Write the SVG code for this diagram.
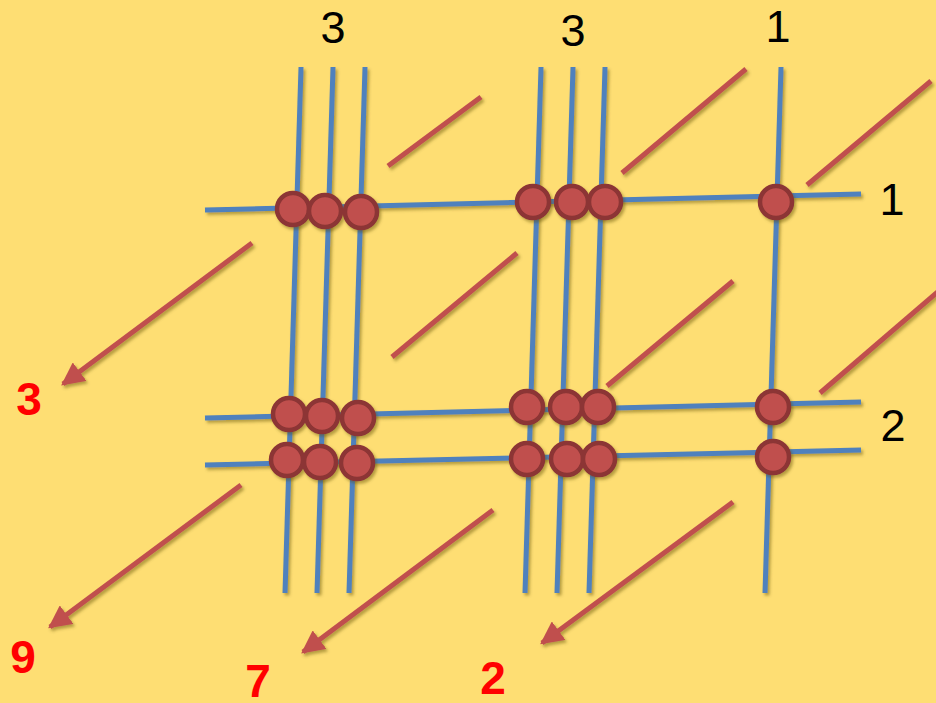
<svg xmlns="http://www.w3.org/2000/svg" width="936" height="703" viewBox="0 0 936 703">
  <defs>
    <filter id="shadow" x="-20%" y="-20%" width="140%" height="140%">
      <feDropShadow dx="2" dy="2.5" stdDeviation="1.5" flood-color="#5a4a10" flood-opacity="0.45"/>
    </filter>
    <marker id="head" viewBox="0 0 10 10" refX="9" refY="5" markerWidth="4.6" markerHeight="4.6" orient="auto" markerUnits="strokeWidth">
      <path d="M0,0 L10,5 L0,10 z" fill="#C0504D"/>
    </marker>
  </defs>
  <style>
    .blue { stroke: #4F81BD; stroke-width: 5; fill: none; }
    .red { stroke: #C0504D; stroke-width: 5; fill: none; }
    .dot { fill: #C0504D; stroke: #8C3535; stroke-width: 4.5; }
    .num { font-family: "Liberation Sans", Arial, sans-serif; font-size: 45px; fill: #000; text-anchor: middle; }
    .sum { font-family: "Liberation Sans", Arial, sans-serif; font-size: 46px; font-weight: bold; fill: #FF0000; text-anchor: middle; }
  </style>

  <rect width="936" height="703" fill="#FEDE73"/>

  <!-- line groups for the two factors -->
  <g id="vertical-lines" class="blue" filter="url(#shadow)">
    <line x1="301" y1="67" x2="285" y2="593"/>
    <line x1="333" y1="67" x2="317" y2="593"/>
    <line x1="365" y1="67" x2="349" y2="593"/>
    <line x1="541" y1="67" x2="525" y2="593"/>
    <line x1="573" y1="67" x2="557" y2="593"/>
    <line x1="605" y1="67" x2="589" y2="593"/>
    <line x1="781" y1="67" x2="765" y2="593"/>
  </g>
  <g id="horizontal-lines" class="blue" filter="url(#shadow)">
    <line x1="205" y1="210" x2="861" y2="194"/>
    <line x1="205" y1="418" x2="861" y2="402"/>
    <line x1="205" y1="465" x2="861" y2="450"/>
  </g>

  <!-- diagonal separators and summing arrows -->
  <g id="connectors" class="red" filter="url(#shadow)">
    <line x1="388" y1="166" x2="481" y2="97"/>
    <line x1="622" y1="173" x2="746" y2="69"/>
    <line x1="807" y1="185" x2="931" y2="81"/>
    <line x1="392" y1="357" x2="517" y2="253"/>
    <line x1="607" y1="386" x2="733" y2="281"/>
    <line x1="820" y1="393" x2="940" y2="290"/>
    <line x1="252" y1="243" x2="63" y2="384" marker-end="url(#head)"/>
    <line x1="241" y1="485" x2="50" y2="627" marker-end="url(#head)"/>
    <line x1="493" y1="510" x2="303" y2="652" marker-end="url(#head)"/>
    <line x1="733" y1="502" x2="542" y2="643" marker-end="url(#head)"/>
  </g>

  <!-- intersection points -->
  <g id="row1-dots" filter="url(#shadow)">
    <circle class="dot" cx="293" cy="209" r="16"/>
    <circle class="dot" cx="325" cy="211" r="16"/>
    <circle class="dot" cx="361" cy="212" r="16"/>
    <circle class="dot" cx="533" cy="202" r="16"/>
    <circle class="dot" cx="572" cy="202" r="16"/>
    <circle class="dot" cx="605" cy="202" r="16"/>
    <circle class="dot" cx="776" cy="202" r="16"/>
  </g>
  <g id="row2-dots" filter="url(#shadow)">
    <circle class="dot" cx="289" cy="414" r="16"/>
    <circle class="dot" cx="322" cy="416" r="16"/>
    <circle class="dot" cx="358" cy="418" r="16"/>
    <circle class="dot" cx="527" cy="407" r="16"/>
    <circle class="dot" cx="566" cy="407" r="16"/>
    <circle class="dot" cx="598" cy="407" r="16"/>
    <circle class="dot" cx="773" cy="407" r="16"/>
  </g>
  <g id="row3-dots" filter="url(#shadow)">
    <circle class="dot" cx="287" cy="460" r="16"/>
    <circle class="dot" cx="320" cy="462" r="16"/>
    <circle class="dot" cx="357" cy="463" r="16"/>
    <circle class="dot" cx="527" cy="459" r="16"/>
    <circle class="dot" cx="567" cy="459" r="16"/>
    <circle class="dot" cx="599" cy="459" r="16"/>
    <circle class="dot" cx="773" cy="457" r="16"/>
  </g>

  <!-- factor digits -->
  <g id="factor-labels">
    <text class="num" x="333" y="43">3</text>
    <text class="num" x="573" y="46">3</text>
    <text class="num" x="778" y="42">1</text>
    <text class="num" x="892" y="215">1</text>
    <text class="num" x="893" y="441">2</text>
  </g>

  <!-- product digits -->
  <g id="result-labels">
    <text class="sum" x="29" y="415">3</text>
    <text class="sum" x="23" y="673">9</text>
    <text class="sum" x="258" y="697">7</text>
    <text class="sum" x="493" y="694">2</text>
  </g>
</svg>
